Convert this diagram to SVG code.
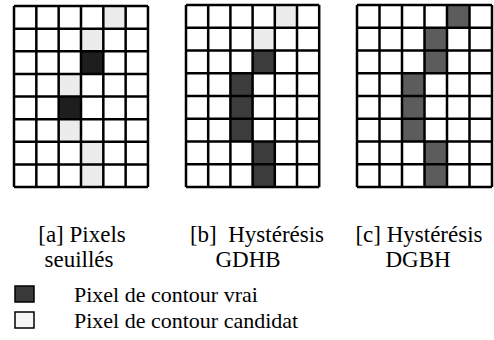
<svg xmlns="http://www.w3.org/2000/svg" width="494" height="340" viewBox="0 0 494 340">
<style>
.bg{fill:#fff}
.g{fill:none;stroke:#000;stroke-width:2.5px;vector-effect:non-scaling-stroke}
.ta{fill:#1e1e1e}
.tb{fill:#3c3c3c}
.tc{fill:#5c5c5c}
.k{fill:#ececec}
.m{text-anchor:middle}
.lb{font-size:23px}
</style>
<rect width="494" height="340" fill="#fff"/>
<g id="grid-a" transform="translate(14,6) scale(22.33,22.63)">
<rect class="bg" width="6" height="8"/>
<rect class="k" x="4" y="0" width="1" height="1"/>
<rect class="k" x="3" y="1" width="1" height="1"/>
<rect class="ta" x="3" y="2" width="1" height="1"/>
<rect class="k" x="2" y="3" width="1" height="1"/>
<rect class="ta" x="2" y="4" width="1" height="1"/>
<rect class="k" x="2" y="5" width="1" height="1"/>
<rect class="k" x="3" y="6" width="1" height="1"/>
<rect class="k" x="3" y="7" width="1" height="1"/>
<path class="g" d="M0 0H6M0 1H6M0 2H6M0 3H6M0 4H6M0 5H6M0 6H6M0 7H6M0 8H6M0 0V8M1 0V8M2 0V8M3 0V8M4 0V8M5 0V8M6 0V8"/>
</g>
<g id="grid-b" transform="translate(186,5) scale(22.2,22.75)">
<rect class="bg" width="6" height="8"/>
<rect class="k" x="4" y="0" width="1" height="1"/>
<rect class="k" x="3" y="1" width="1" height="1"/>
<rect class="tb" x="3" y="2" width="1" height="1"/>
<rect class="tb" x="2" y="3" width="1" height="3"/>
<rect class="tb" x="3" y="6" width="1" height="2"/>
<path class="g" d="M0 0H6M0 1H6M0 2H6M0 3H6M0 4H6M0 5H6M0 6H6M0 7H6M0 8H6M0 0V8M1 0V8M2 0V8M3 0V8M4 0V8M5 0V8M6 0V8"/>
</g>
<g id="grid-c" transform="translate(357,5) scale(22.5,22.75)">
<rect class="bg" width="6" height="8"/>
<rect class="tc" x="4" y="0" width="1" height="1"/>
<rect class="tc" x="3" y="1" width="1" height="2"/>
<rect class="tc" x="2" y="3" width="1" height="3"/>
<rect class="tc" x="3" y="6" width="1" height="2"/>
<path class="g" d="M0 0H6M0 1H6M0 2H6M0 3H6M0 4H6M0 5H6M0 6H6M0 7H6M0 8H6M0 0V8M1 0V8M2 0V8M3 0V8M4 0V8M5 0V8M6 0V8"/>
</g>
<g font-family="'Liberation Serif', 'Times New Roman', serif" font-size="22" fill="#000">
<g id="label-a" class="lb">
<text class="m" x="82" y="242">[a] Pixels</text>
<text class="m" x="79" y="267">seuillés</text>
</g>
<g id="label-b" class="lb">
<text class="m" x="257" y="242" xml:space="preserve">[b]  Hystérésis</text>
<text class="m" x="248" y="267">GDHB</text>
</g>
<g id="label-c" class="lb">
<text class="m" x="419" y="242">[c] Hystérésis</text>
<text class="m" x="418" y="267">DGBH</text>
</g>
<g id="legend-true">
<rect x="15" y="286" width="19" height="16" fill="#3a3a3a" stroke="#000" stroke-width="1.5"/>
<text x="74" y="302">Pixel de contour vrai</text>
</g>
<g id="legend-candidate">
<rect x="15" y="312" width="19" height="16" fill="#f6f6f6" stroke="#000" stroke-width="1.5"/>
<text x="74" y="328">Pixel de contour candidat</text>
</g>
</g>
</svg>
